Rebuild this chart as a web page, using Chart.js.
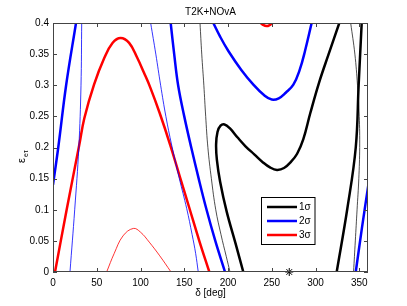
<!DOCTYPE html>
<html>
<head>
<meta charset="utf-8">
<script src="https://cdn.jsdelivr.net/npm/chart.js@4.4.1/dist/chart.umd.min.js"></script>
<style>
  html, body { margin: 0; padding: 0; background: #fff; }
</style>
</head>
<body>
<canvas id="c" width="407" height="306"></canvas>
<script>
// tick positions
const xTicks = [0, 50, 100, 150, 200, 250, 300, 350];
const yTicks = [0, 0.05, 0.1, 0.15, 0.2, 0.25, 0.3, 0.35, 0.4];

// contour lines, [delta, eps]
const blueThickA = [[0, 0.14], [6, 0.2], [15, 0.3], [26.3, 0.4]];
const blueThinA = [[19.4, 0], [24.8, 0.1], [29.5, 0.2], [32, 0.3], [32.8, 0.4]];
const redThick = [[2.3, 0], [15.6, 0.1], [30, 0.204], [35.8, 0.247], [46.9, 0.301], [58.7, 0.344], [68, 0.368], [77.3, 0.376], [87, 0.368], [96, 0.345], [104, 0.32], [111, 0.297], [122, 0.255], [134, 0.204], [145, 0.153], [156, 0.102], [167, 0.051], [178.7, 0]];
const redThin = [[61.3, 0], [70, 0.03], [80, 0.058], [91.8, 0.07], [100, 0.064], [110, 0.048], [122, 0.026], [134.9, 0]];
const blueThinB = [[111.6, 0.4], [117.5, 0.35], [123, 0.3], [129, 0.25], [135.6, 0.204], [144.4, 0.15], [152.8, 0.102], [159, 0.06], [163, 0.03], [166, 0]];
const blueThickB = [[134.5, 0.4], [138.5, 0.35], [143, 0.3], [150, 0.25], [158, 0.2], [166.5, 0.15], [175.5, 0.1], [185.5, 0.05], [196.6, 0]];
const blackThinA = [[168, 0.4], [170, 0.35], [172.4, 0.3], [174.5, 0.25], [177, 0.2], [181, 0.15], [186, 0.1], [192, 0.06], [198, 0.025], [202.3, 0]];
const blackThickS = [[217.5, 0], [209, 0.044], [198.5, 0.097], [191, 0.145], [187.3, 0.18], [186.4, 0.205], [188, 0.225], [191.5, 0.235], [196, 0.237], [202, 0.231], [211, 0.216], [220, 0.202], [230, 0.189], [240, 0.176], [248, 0.168], [256, 0.164], [264, 0.167], [272, 0.177], [279, 0.19], [286, 0.213], [294, 0.255], [304, 0.304], [315, 0.35], [327.2, 0.4]];
const blueU = [[183.2, 0.4], [191, 0.378], [200.4, 0.355], [215, 0.325], [229, 0.301], [242, 0.283], [250, 0.277], [258, 0.279], [266, 0.288], [274.7, 0.301], [282, 0.325], [288, 0.355], [295.6, 0.4]];
const redSmall = [[236.6, 0.401], [240, 0.397], [244, 0.395], [248, 0.397], [251.8, 0.401]];
const blackThickR = [[324.2, 0], [336.4, 0.102], [346, 0.2], [349.3, 0.3], [352.8, 0.4]];
const blackThinR = [[340.2, 0.4], [345, 0.35], [348, 0.3], [350, 0.25], [350.5, 0.2], [349.5, 0.15], [347.5, 0.1], [345.5, 0.05], [343.5, 0]];
const blueThickR = [[346, 0], [353, 0.07], [360.4, 0.14]];
const bestFit = [[270, 0]];

const legendItems = [
  { label: "1\u03c3", color: "#000000" },
  { label: "2\u03c3", color: "#0000ff" },
  { label: "3\u03c3", color: "#ff0000" },
];

const toXY = (pts) => pts.map(([x, y]) => ({ x, y }));

const line = (pts, color, width) => ({
  data: toXY(pts),
  borderColor: color,
  borderWidth: width,
  showLine: true,
  pointRadius: 0,
  tension: 0.4,
  fill: false,
});

const font = '10px "Liberation Sans", Arial, sans-serif';

const frame = {
  id: "frame",
  afterDraw(chart) {
    const { ctx, chartArea: a, scales } = chart;
    const x = scales.x, y = scales.y;
    ctx.save();
    ctx.strokeStyle = "#444";
    ctx.lineWidth = 1;
    ctx.strokeRect(a.left + 0.5, a.top + 0.5, a.right - a.left - 1, a.bottom - a.top - 1);
    ctx.beginPath();
    xTicks.forEach((v) => {
      const px = Math.round(x.getPixelForValue(v)) + 0.5;
      ctx.moveTo(px, a.bottom); ctx.lineTo(px, a.bottom - 4);
      ctx.moveTo(px, a.top); ctx.lineTo(px, a.top + 4);
    });
    yTicks.forEach((v) => {
      const py = Math.round(y.getPixelForValue(v)) + 0.5;
      ctx.moveTo(a.left, py); ctx.lineTo(a.left + 4, py);
      ctx.moveTo(a.right, py); ctx.lineTo(a.right - 4, py);
    });
    ctx.stroke();

    // title and axis labels
    ctx.fillStyle = "#000";
    ctx.font = font;
    ctx.textAlign = "center";
    ctx.textBaseline = "middle";
    const cx = (a.left + a.right) / 2;
    ctx.fillText("T2K+NOvA", cx, 12);
    ctx.fillText("\u03b4 [deg]", cx, 293);

    ctx.save();
    ctx.translate(25, 163);
    ctx.rotate(-Math.PI / 2);
    ctx.textAlign = "left";
    ctx.textBaseline = "alphabetic";
    ctx.font = '11px "Liberation Sans", Arial, sans-serif';
    ctx.fillText("\u03b5", 0, 0);
    ctx.font = '7px "Liberation Sans", Arial, sans-serif';
    ctx.fillText("e\u03c4", 6, 2.5);
    ctx.restore();

    // legend box
    ctx.fillStyle = "#fff";
    ctx.fillRect(261.5, 197.5, 53.5, 47);
    ctx.strokeStyle = "#000";
    ctx.lineWidth = 1;
    ctx.strokeRect(261.5, 197.5, 53.5, 47);
    legendItems.forEach((it, i) => {
      const ly = 207 + i * 14;
      ctx.strokeStyle = it.color;
      ctx.lineWidth = 2.5;
      ctx.beginPath();
      ctx.moveTo(267, ly); ctx.lineTo(297, ly);
      ctx.stroke();
      ctx.fillStyle = "#000";
      ctx.font = font;
      ctx.textAlign = "left";
      ctx.textBaseline = "middle";
      ctx.fillText(it.label, 299, ly + 0.5);
    });
    ctx.restore();
  },
};

new Chart(document.getElementById("c"), {
  type: "scatter",
  data: {
    datasets: [
      line(redThin, "#ff0000", 0.8),
      line(blueThinA, "#0000ff", 0.8),
      line(blueThinB, "#0000ff", 0.8),
      line(blackThinA, "#000000", 0.7),
      line(blackThinR, "#000000", 0.7),
      line(redThick, "#ff0000", 2.5),
      line(redSmall, "#ff0000", 2.5),
      line(blueThickA, "#0000ff", 2.5),
      line(blueThickB, "#0000ff", 2.5),
      line(blueU, "#0000ff", 2.5),
      line(blueThickR, "#0000ff", 2.5),
      line(blackThickS, "#000000", 2.5),
      line(blackThickR, "#000000", 2.5),
      {
        data: toXY(bestFit),
        pointStyle: "star",
        pointRadius: 4,
        borderColor: "#000",
        borderWidth: 1,
        backgroundColor: "#000",
        clip: false,
      },
    ],
  },
  options: {
    responsive: false,
    animation: false,
    devicePixelRatio: 1,
    layout: { padding: { top: 23, right: 39, left: 0, bottom: 0 } },
    plugins: { legend: { display: false }, tooltip: { enabled: false }, title: { display: false } },
    scales: {
      x: {
        type: "linear",
        min: 0,
        max: 360,
        afterFit: (s) => { s.height = 34; },
        afterBuildTicks: (s) => { s.ticks = xTicks.map((v) => ({ value: v })); },
        grid: { display: false, drawTicks: false },
        border: { display: false },
        ticks: { padding: 5, color: "#000", font: { family: '"Liberation Sans", Arial, sans-serif', size: 10 }, maxRotation: 0 },
      },
      y: {
        type: "linear",
        min: 0,
        max: 0.4,
        afterFit: (s) => { s.width = 53; },
        afterBuildTicks: (s) => { s.ticks = yTicks.map((v) => ({ value: v })); },
        grid: { display: false, drawTicks: false },
        border: { display: false },
        ticks: { padding: 4, color: "#000", font: { family: '"Liberation Sans", Arial, sans-serif', size: 10 }, callback: (v) => String(v) },
      },
    },
  },
  plugins: [frame],
});
</script>
</body>
</html>
